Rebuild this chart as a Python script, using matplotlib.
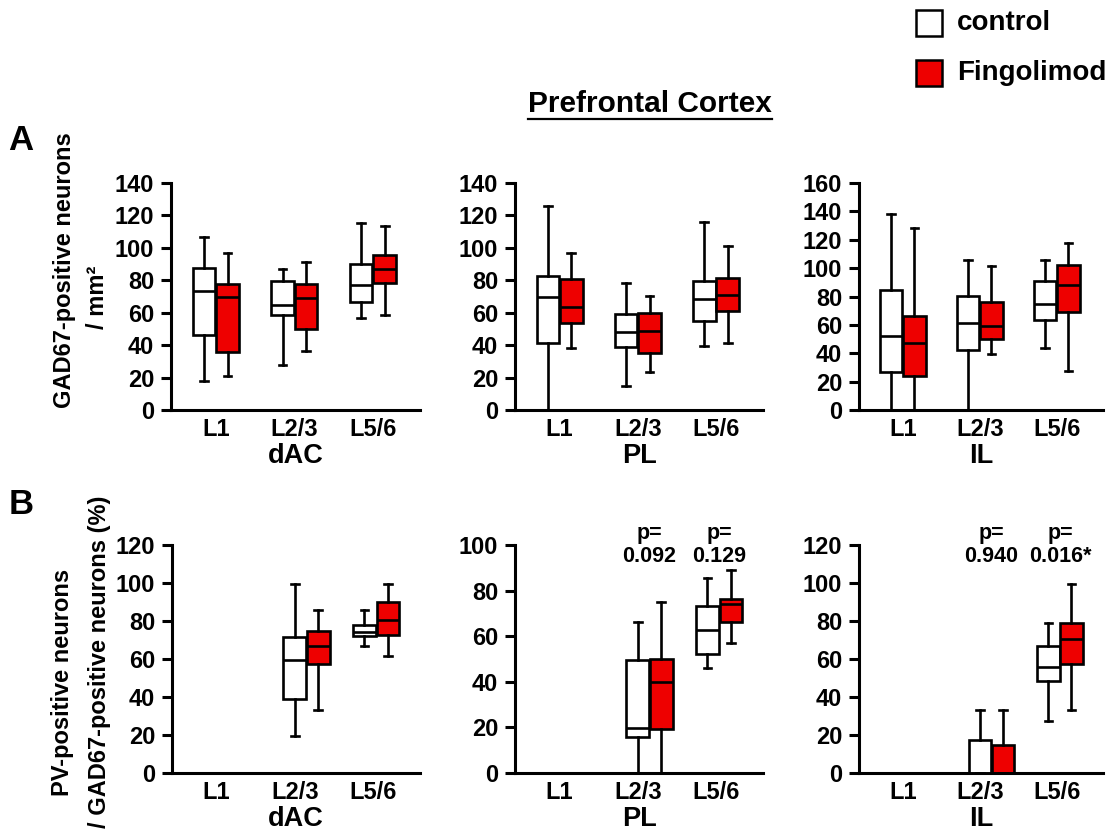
import matplotlib
matplotlib.use("Agg")
import matplotlib.pyplot as plt
from matplotlib.patches import Rectangle
from matplotlib.lines import Line2D

plt.rcParams['font.family'] = ['Liberation Sans', 'DejaVu Sans']
plt.rcParams['font.weight'] = 'bold'

# ---------------- data (whisker low, Q1, median, Q3, whisker high) ----------------
layers = ["L1", "L2/3", "L5/6"]
groups = ["control", "Fingolimod"]
regions = ["dAC", "PL", "IL"]

dAC_gad_control = [[17.9, 46.3, 73.5, 87.5, 106.4], [28.0, 58.3, 64.9, 79.3, 86.7], [56.6, 66.5, 77.0, 90.2, 115.5]]
dAC_gad_fingo = [[20.8, 35.6, 69.4, 77.6, 96.6], [36.2, 50.0, 69.2, 77.6, 91.2], [58.3, 78.4, 87.1, 95.5, 113.4]]
PL_gad_control = [[0.0, 41.2, 70.0, 82.8, 126.0], [15.0, 38.9, 48.0, 59.1, 78.6], [39.3, 55.0, 68.4, 79.3, 115.7]]
PL_gad_fingo = [[38.3, 53.7, 63.6, 80.5, 97.0], [23.3, 35.0, 49.0, 60.1, 70.4], [41.2, 61.1, 71.2, 81.3, 101.0]]
IL_gad_control = [[0.0, 26.5, 52.0, 84.8, 138.0], [0.0, 42.4, 61.6, 80.6, 105.6], [43.8, 63.7, 75.0, 90.9, 105.6]]
IL_gad_fingo = [[0.0, 24.1, 47.3, 66.1, 128.4], [39.4, 49.9, 59.5, 75.9, 101.2], [27.2, 69.1, 88.3, 101.9, 117.6]]

dAC_pv_control = [[0, 0, 0, 0, 0], [19.7, 38.8, 59.7, 71.4, 99.6], [66.6, 72.3, 74.4, 77.9, 85.8]]
dAC_pv_fingo = [[0, 0, 0, 0, 0], [33.2, 57.3, 66.6, 74.6, 85.6], [61.5, 72.8, 80.7, 90.0, 99.6]]
PL_pv_control = [[0, 0, 0, 0, 0], [0.0, 15.8, 19.9, 49.6, 66.4], [46.0, 52.3, 62.8, 73.1, 85.7]]
PL_pv_fingo = [[0, 0, 0, 0, 0], [0.0, 19.3, 39.9, 49.9, 75.0], [56.9, 66.3, 74.3, 76.5, 88.9]]
IL_pv_control = [[0, 0, 0, 0, 0], [0.0, 0.0, 0.0, 17.5, 33.3], [27.2, 48.2, 55.9, 66.6, 78.8]]
IL_pv_fingo = [[0, 0, 0, 0, 0], [0.0, 0.0, 0.0, 14.5, 33.3], [33.1, 57.5, 70.6, 79.0, 99.7]]

gad_ymax = [140, 140, 160]
pv_ymax = [120, 100, 120]

PL_pv_pvalues = ["p=\n0.092", "p=\n0.129"]
IL_pv_pvalues = ["p=\n0.940", "p=\n0.016*"]

# ---------------- layout ----------------
W, H = 1111, 831
fig = plt.figure(figsize=(W / 100, H / 100), dpi=100)

def rect(x0, x1, ytop, ybot):
    return [x0 / W, 1 - ybot / H, (x1 - x0) / W, (ybot - ytop) / H]

rectsA = [rect(171, 420, 183, 410), rect(515, 763, 183, 410), rect(859, 1103, 183, 410)]
rectsB = [rect(172, 420, 545, 773), rect(515, 763, 545, 773), rect(859, 1103, 545, 773)]

RED = '#ee0000'
LW = 1.9
TICKFS = 17


def stats_from(rows, label):
    return [dict(whislo=r[0], q1=r[1], med=r[2], q3=r[3], whishi=r[4], label=label) for r in rows]


def draw_panel(r, ctrl, fingo, ymax, region, shifts, lpad):
    ax = fig.add_axes(r)
    centers = [1 + i + shifts[i] for i in range(3)]
    for data, col, off in ((ctrl, 'white', -0.15), (fingo, RED, 0.15)):
        arts = ax.bxp(stats_from(data, ''), positions=[c + off for c in centers],
                      widths=0.29, patch_artist=True, showfliers=False,
                      boxprops=dict(facecolor=col, edgecolor='black', linewidth=LW),
                      medianprops=dict(color='black', linewidth=LW),
                      whiskerprops=dict(color='black', linewidth=LW),
                      capprops=dict(color='black', linewidth=LW),
                      capwidths=0.1, manage_ticks=False)
        for k in arts:
            for a in arts[k]:
                a.set_clip_on(False)
                a.set_zorder(3)
    ax.set_xlim(0.43, 3.6)
    ax.set_ylim(0, ymax)
    ax.set_yticks(range(0, ymax + 1, 20))
    ax.set_xticks([1, 2, 3])
    ax.set_xticklabels(layers)
    for s in ('top', 'right'):
        ax.spines[s].set_visible(False)
    for s in ('left', 'bottom'):
        ax.spines[s].set_linewidth(2.2)
    ax.tick_params(axis='y', direction='out', length=7, width=2.2, pad=5, labelsize=TICKFS)
    ax.tick_params(axis='x', length=0, pad=5.5, labelsize=TICKFS)
    for t in ax.get_xticklabels() + ax.get_yticklabels():
        t.set_fontweight('bold')
    ax.set_xlabel(region, fontsize=19.5, fontweight='bold', labelpad=lpad)
    ax.patch.set_alpha(0)
    return ax, centers


gad_sets = [(dAC_gad_control, dAC_gad_fingo), (PL_gad_control, PL_gad_fingo), (IL_gad_control, IL_gad_fingo)]
pv_sets = [(dAC_pv_control, dAC_pv_fingo), (PL_pv_control, PL_pv_fingo), (IL_pv_control, IL_pv_fingo)]

for i in range(3):
    draw_panel(rectsA[i], gad_sets[i][0], gad_sets[i][1], gad_ymax[i], regions[i], [0, 0, 0], 2)

axB = []
for i in range(3):
    axB.append(draw_panel(rectsB[i], pv_sets[i][0], pv_sets[i][1], pv_ymax[i], regions[i],
                          [0, 0.15, 0.04], 1.5))

for (ax, centers), pv in ((axB[1], PL_pv_pvalues), (axB[2], IL_pv_pvalues)):
    for c, txt in zip(centers[1:], pv):
        ax.text(c, 1.0, txt, transform=ax.get_xaxis_transform(), ha='center', va='center',
                fontsize=15.5, fontweight='bold', linespacing=1.1)

# ---------------- figure texts ----------------
fig.text(21 / W, 1 - 141 / H, "A", fontsize=25, fontweight='bold', ha='center', va='center')
fig.text(21 / W, 1 - 505 / H, "B", fontsize=25, fontweight='bold', ha='center', va='center')

fig.text(65 / W, 1 - 270 / H, "GAD67-positive neurons", rotation=90, fontsize=17,
         fontweight='bold', ha='center', va='center')
fig.text(97 / W, 1 - 297 / H, "/ mm²", rotation=90, fontsize=17,
         fontweight='bold', ha='center', va='center')
fig.text(62 / W, 1 - 682 / H, "PV-positive neurons", rotation=90, fontsize=17,
         fontweight='bold', ha='center', va='center')
fig.text(100 / W, 1 - 662 / H, "/ GAD67-positive neurons (%)", rotation=90, fontsize=17,
         fontweight='bold', ha='center', va='center')

title = fig.text(650 / W, 1 - 104 / H, "Prefrontal Cortex", fontsize=21.5,
                 fontweight='bold', ha='center', va='center')
fig.canvas.draw()
bb = title.get_window_extent()
fig.add_artist(Line2D([bb.x0 / W, bb.x1 / W], [1 - 119 / H, 1 - 119 / H],
                      transform=fig.transFigure, color='black', linewidth=1.6))

# legend
for (ytop, ybot, col, lab, ytxt) in ((10, 36, 'white', groups[0], 23), (60, 86, RED, groups[1], 73)):
    fig.add_artist(Rectangle((916 / W, 1 - ybot / H), 26 / W, (ybot - ytop) / H,
                             transform=fig.transFigure, facecolor=col, edgecolor='black', linewidth=1.8))
    fig.text(957 / W, 1 - ytxt / H, lab, fontsize=20, fontweight='bold', ha='left', va='center')

fig.savefig("out.png", dpi=100)
